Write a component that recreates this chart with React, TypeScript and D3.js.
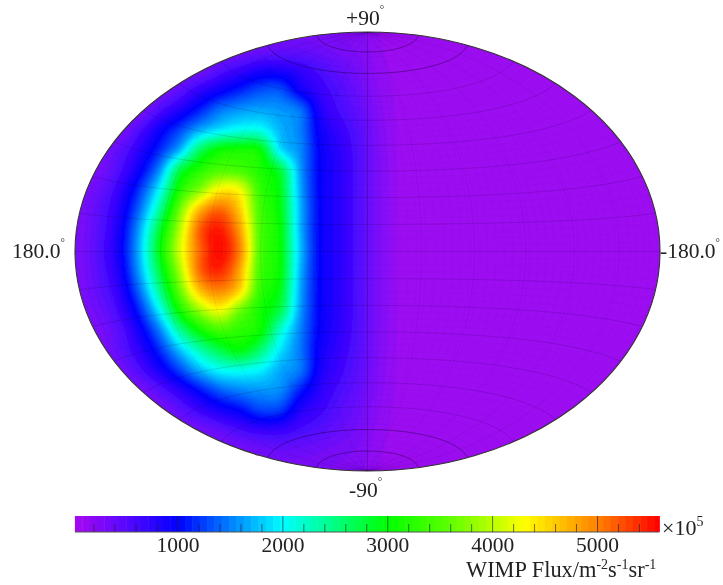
import React from "react";
import * as d3 from "d3";

const leftX = d3.range(60, 401, 20);
const rightX = d3.range(420, 681, 20);
const gridY = d3.range(30, 491, 20);
const rightFlux = [118, 108, 104, 102, 100, 100, 100, 100, 100, 100, 100, 100, 100, 100];
const leftFlux: number[][] = [
  [320,320,320,320,320,320,320,320,320,320,320,320,320,310,290,250,150,125],
  [320,320,320,320,320,320,320,320,320,340,400,450,450,400,340,280,170,125],
  [320,320,320,320,320,320,320,350,550,700,850,850,750,600,460,340,190,130],
  [320,320,320,320,320,320,500,750,950,1150,1320,1340,950,720,560,400,220,135],
  [320,320,320,320,320,600,850,1150,1480,1620,1680,1620,1480,850,620,460,250,135],
  [320,320,320,320,600,950,1300,1700,1950,2100,2100,1750,1530,950,720,520,280,140],
  [320,320,320,500,800,1200,1750,2650,3080,3150,3050,1950,1580,1000,780,540,290,140],
  [300,320,350,600,980,1600,2750,3250,3500,3450,3200,2800,1650,1020,800,550,300,140],
  [300,320,450,750,1250,2050,3200,3800,4400,4300,3350,2950,1700,1020,800,550,300,140],
  [300,330,520,850,1480,2450,3700,4750,5150,4600,3450,3000,1750,1020,800,550,300,140],
  [290,330,550,920,1700,2850,4000,5200,5500,4850,3500,3050,1750,1020,800,550,300,140],
  [280,330,580,950,1780,3000,4150,5150,5580,5000,3500,3050,1800,1020,800,550,300,140],
  [290,330,550,900,1700,2800,3950,5150,5450,4800,3450,3050,1750,1020,800,550,300,140],
  [300,330,500,800,1480,2500,3650,4700,5000,4550,3350,2950,1700,1020,800,550,300,140],
  [300,320,420,680,1200,2050,3150,3900,4300,3700,3150,2750,1650,1020,790,550,300,140],
  [320,320,350,550,950,1550,2450,3100,3450,3300,3100,2250,1550,1000,770,540,290,140],
  [320,320,320,500,780,1200,1800,2350,2750,3000,2600,1950,1500,950,730,520,280,140],
  [320,320,320,350,600,900,1300,1750,2050,2100,2000,1700,1500,900,680,490,270,140],
  [320,320,320,320,350,550,800,1100,1400,1550,1620,1580,1150,800,600,440,250,135],
  [320,320,320,320,320,330,500,700,900,1050,1280,1250,850,680,520,390,220,135],
  [320,320,320,320,320,320,320,380,480,620,720,720,620,540,440,340,190,130],
  [320,320,320,320,320,320,320,320,320,350,400,440,420,380,330,280,170,125],
  [320,320,320,320,320,320,320,320,320,320,320,320,320,300,280,240,150,125],
  [320,320,320,320,320,320,320,320,320,320,320,320,300,280,260,220,140,120],
];

const colorStops = [17, 500, 1000, 1500, 2000, 3000, 3600, 4300, 5000, 5590];
const colorValues = ["#a808f0", "#5808ff", "#0000ff", "#0080ff", "#00ffff", "#00ff00", "#60ff00", "#ffff00", "#ff8000", "#ff0000"];
const bandStep = 70;
const majorTicks = [1000, 2000, 3000, 4000, 5000];
const minorTicks = d3.range(200, 5590, 200);
const latLines = d3.range(-80, 81, 10);
const lonLines = d3.range(-150, 151, 30);
const fineLat = d3.range(-87.5, 90, 2.5);
const fineLon = d3.range(-177.5, 180, 5);

const gridX = [...leftX, ...rightX];
const flux = leftFlux.map((r) => [...r, ...rightFlux]);

const color = d3.scaleLinear<string>().domain(colorStops).range(colorValues).interpolate(d3.interpolateRgb);
const levels = d3.range(17, 5590, bandStep);

const cx = 367.5, cy = 251.5, rx = 292.5, ry = 219.5;
const px = d3.scaleLinear().domain([1, -1]).range([cx - rx, cx + rx]);
const py = d3.scaleLinear().domain([1, -1]).range([cy - ry, cy + ry]);

function hammer(lonDeg: number, latDeg: number): [number, number] {
  const l = (lonDeg * Math.PI) / 180, p = (latDeg * Math.PI) / 180;
  const k = Math.sqrt(1 + Math.cos(p) * Math.cos(l / 2));
  return [(Math.cos(p) * Math.sin(l / 2)) / k, Math.sin(p) / k];
}
const line = d3.line<[number, number]>().x((d) => px(d[0])).y((d) => py(d[1]));
const parallel = (lat: number) => line(d3.range(-180, 180.1, 3).map((l) => hammer(l, lat))) as string;
const meridian = (lon: number) => line(d3.range(-90, 90.1, 3).map((p) => hammer(lon, p))) as string;

// Raster smoothing of the sampled field for display (Catmull-Rom resampling)
const factor = 4;
const cr = (a: number, b: number, c: number, d: number, t: number) =>
  0.5 * (2 * b + (c - a) * t + (2 * a - 5 * b + 4 * c - d) * t * t + (3 * b - a - 3 * c + d) * t * t * t);
const at = (j: number, i: number) =>
  flux[Math.max(0, Math.min(flux.length - 1, j))][Math.max(0, Math.min(flux[0].length - 1, i))];
const W = (gridX.length - 1) * factor + 1, H = (gridY.length - 1) * factor + 1;
const fine: number[] = [];
for (let y = 0; y < H; y++) {
  const j = Math.floor(y / factor), v = y / factor - j;
  for (let x = 0; x < W; x++) {
    const i = Math.floor(x / factor), u = x / factor - i;
    const row = [-1, 0, 1, 2].map((dj) => cr(at(j + dj, i - 1), at(j + dj, i), at(j + dj, i + 1), at(j + dj, i + 2), u));
    fine.push(Math.max(60, Math.min(5590, cr(row[0], row[1], row[2], row[3], v))));
  }
}

const gx = d3.scaleLinear().domain([0.5, W - 0.5]).range([gridX[0], gridX[gridX.length - 1]]);
const gy = d3.scaleLinear().domain([0.5, H - 0.5]).range([gridY[0], gridY[gridY.length - 1]]);
const contourPath = d3.geoPath(
  d3.geoTransform({
    point(x: number, y: number) {
      (this as any).stream.point(gx(x), gy(y));
    },
  })
);
const bands = d3.contours().size([W, H]).smooth(true).thresholds(levels)(fine);

const barX = d3.scaleLinear().domain([1000, 5000]).range([178, 597.5]);
const barTop = 516, barBottom = 532;
const F = "'Liberation Serif', 'Times New Roman', serif";

export default function App() {
  return (
    <svg width={723} height={585} style={{ position: "fixed", left: 0, top: 0, background: "#fff" }} fontFamily={F} fill="#222">
      <defs>
        <clipPath id="globe"><ellipse cx={cx} cy={cy} rx={rx} ry={ry} /></clipPath>
        <filter id="soft" x="-5%" y="-5%" width="110%" height="110%"><feGaussianBlur stdDeviation="1.2" /></filter>
        <filter id="txt"><feGaussianBlur stdDeviation="0.35" /></filter>
      </defs>
      <g clipPath="url(#globe)">
        <g filter="url(#soft)">
          {bands.map((b, i) => (
            <path key={i} d={contourPath(b as any) as string} fill={color(b.value)} stroke={color(b.value)} strokeWidth={0.4} />
          ))}
        </g>
        <g fill="none" stroke="#000">
          {fineLat.map((l) => <path key={"fa" + l} d={parallel(l)} strokeOpacity={0.035} strokeWidth={0.6} />)}
          {fineLon.map((l) => <path key={"fo" + l} d={meridian(l)} strokeOpacity={0.035} strokeWidth={0.6} />)}
          {latLines.map((l) => (
            <path key={"a" + l} d={parallel(l)} strokeOpacity={Math.abs(l) >= 70 ? 0.4 : 0.14} strokeWidth={0.8} />
          ))}
          {lonLines.map((l) => <path key={"o" + l} d={meridian(l)} strokeOpacity={l === 0 ? 0.25 : 0.08} strokeWidth={0.8} />)}
        </g>
      </g>
      <ellipse cx={cx} cy={cy} rx={rx} ry={ry} fill="none" stroke="#333" strokeWidth={1.1} />

      {levels.map((v, i) => (
        <rect key={v} x={barX(v)} y={barTop} width={barX(levels[i + 1] ?? 5590) - barX(v) + 0.5} height={barBottom - barTop} fill={color(v + bandStep / 2)} />
      ))}
      <rect x={barX(17)} y={barBottom - 0.5} width={barX(5590) - barX(17)} height={1} fill="#555" />
      {minorTicks.map((v) => (
        <line key={v} x1={barX(v)} x2={barX(v)} y1={majorTicks.includes(v) ? barTop : barBottom - 8} y2={barBottom} stroke="#222" strokeOpacity={0.7} strokeWidth={0.9} />
      ))}

      <g filter="url(#txt)" fontSize={21.5}>
        <text x={346} y={25}>+90<tspan fontSize={11} dy={-12}>°</tspan></text>
        <text x={349} y={497}>-90<tspan fontSize={11} dy={-12}>°</tspan></text>
        <text x={12} y={258}>180.0<tspan fontSize={11} dy={-12}>°</tspan></text>
        <text x={660} y={258}>-180.0<tspan fontSize={11} dy={-12}>°</tspan></text>
        {majorTicks.map((v) => (
          <text key={v} x={barX(v)} y={552} textAnchor="middle">{v}</text>
        ))}
        <text x={662} y={535} fontSize={22}>×10<tspan fontSize={14} dy={-9}>5</tspan></text>
        <text x={466} y={577} fontSize={22.4}>WIMP Flux/m<tspan fontSize={14} dy={-8}>-2</tspan><tspan dy={8}>s</tspan><tspan fontSize={14} dy={-8}>-1</tspan><tspan dy={8}>sr</tspan><tspan fontSize={14} dy={-8}>-1</tspan></text>
      </g>
    </svg>
  );
}
